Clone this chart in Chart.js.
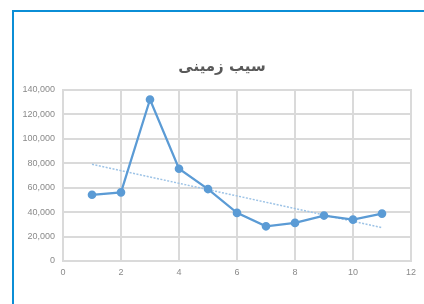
<!DOCTYPE html>
<html>
<head>
<meta charset="utf-8">
<script src="https://cdn.jsdelivr.net/npm/chart.js@4/dist/chart.umd.min.js"></script>
<style>
  html, body { margin: 0; padding: 0; background: #fff; }
  #wrap { position: relative; width: 424px; height: 304px; overflow: hidden; }
  #frame {
    position: absolute; left: 12px; top: 10px; width: 430px; height: 310px;
    border-left: 2px solid #0b8ed6; border-top: 2px solid #0b8ed6;
  }
  canvas { position: absolute; left: 0; top: 0; }
</style>
</head>
<body>
<div id="wrap">
  <div id="frame"></div>
  <canvas id="chart" width="424" height="304"></canvas>
</div>
<script>
// sample index and weights
const months = [1, 2, 3, 4, 5, 6, 7, 8, 9, 10, 11];
const values = [54200, 56200, 132200, 75500, 58900, 39400, 28400, 31200, 37200, 33900, 38800];
const titleText = 'سیب زمینی';

// linear trendline (least squares) like the spreadsheet one
const meanX = months.reduce((a, b) => a + b, 0) / months.length;
const meanY = values.reduce((a, b) => a + b, 0) / values.length;
let sxy = 0, sxx = 0;
months.forEach((m, i) => {
    sxy += (m - meanX) * (values[i] - meanY);
    sxx += (m - meanX) * (m - meanX);
});
const slope = sxy / sxx;
const trendAt = (m) => meanY + slope * (m - meanX);
const first = months[0];
const last = months[months.length - 1];

const tickColor = '#8a8a8a';
const gridColor = '#dadada';

new Chart(document.getElementById('chart'), {
    type: 'scatter',
    data: {
        datasets: [
            {
                data: months.map((m, i) => ({ x: m, y: values[i] })),
                showLine: true,
                borderColor: '#5b9bd5',
                backgroundColor: '#5b9bd5',
                borderWidth: 2.25,
                pointRadius: 3.2,
                pointHoverRadius: 3.2,
                order: 1,
            },
            {
                data: [{ x: first, y: trendAt(first) }, { x: last, y: trendAt(last) }],
                showLine: true,
                borderColor: '#9dc3e6',
                borderWidth: 1.5,
                borderDash: [2, 1.5],
                pointRadius: 0,
                order: 2,
            },
        ],
    },
    options: {
        responsive: false,
        animation: false,
        layout: { padding: { left: 20, right: 0, top: 0, bottom: 0 } },
        plugins: {
            legend: { display: false },
            tooltip: { enabled: false },
            title: {
                display: true,
                text: titleText,
                color: '#595959',
                font: { family: 'DejaVu Sans', size: 15, weight: 'bold' },
                padding: { top: 58, bottom: 14 },
            },
        },
        scales: {
            x: {
                type: 'linear',
                min: 0,
                max: 12,
                ticks: {
                    stepSize: 2,
                    color: tickColor,
                    font: { family: 'Liberation Sans', size: 9 },
                    padding: 6,
                    maxRotation: 0,
                },
                grid: { color: gridColor, lineWidth: 2, drawTicks: false },
                border: { color: gridColor, width: 2 },
                afterFit: (axis) => { axis.height = 43; },
            },
            y: {
                min: 0,
                max: 140000,
                ticks: {
                    stepSize: 20000,
                    color: tickColor,
                    font: { family: 'Liberation Sans', size: 9 },
                    padding: 8,
                    callback: (v) => v.toLocaleString('en-US'),
                },
                grid: { color: gridColor, lineWidth: 2, drawTicks: false },
                border: { color: gridColor, width: 2 },
                afterFit: (axis) => { axis.width = 43; },
            },
            // empty right-hand strip so the title centres over the whole chart box
            yRight: {
                position: 'right',
                ticks: { display: false },
                grid: { display: false },
                border: { display: false },
                afterFit: (axis) => { axis.width = 13; },
            },
        },
    },
    plugins: [{
        id: 'plotFrame',
        afterDraw(chart) {
            const { ctx, chartArea } = chart;
            ctx.save();
            ctx.strokeStyle = gridColor;
            ctx.lineWidth = 2;
            ctx.strokeRect(chartArea.left, chartArea.top, chartArea.right - chartArea.left, chartArea.bottom - chartArea.top);
            ctx.restore();
        },
    }],
});
</script>
</body>
</html>
